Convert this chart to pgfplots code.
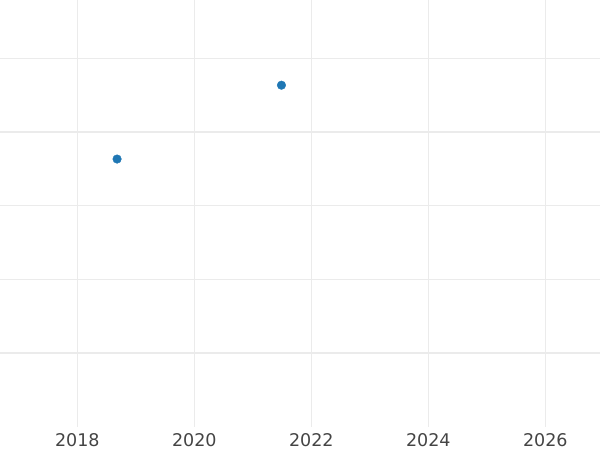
\documentclass[border=0pt]{standalone}
\usepackage{pgfplots}
\pgfplotsset{compat=1.18}
\usepackage{fontspec}
\setmainfont{DejaVu Sans}
\definecolor{ptblue}{HTML}{1F77B4}
\definecolor{gridc}{HTML}{EBEBEB}
\definecolor{labc}{HTML}{444444}
\begin{document}
\begin{tikzpicture}
\begin{axis}[
  scale only axis,
  width=600pt, height=426.7pt,
  xmin=2016.679, xmax=2026.935,
  ymin=0, ymax=5.79,
  xtick={2018,2020,2022,2024,2026},
  ytick={1,2,3,4,5},
  yticklabels={},
  grid=major,
  major grid style={draw=gridc, line width=1.2pt},
  axis line style={draw=none},
  major tick length=0pt,
  /pgf/number format/assume math mode=true,
  /pgf/number format/1000 sep={},
  xticklabel style={font=\fontsize{17.5}{17.5}\selectfont, text=labc, yshift=-3.5pt},
]
\addplot[only marks, mark=*, mark size=4.3pt, color=ptblue, mark options={draw=ptblue, fill=ptblue}] coordinates {
  (2018.68, 3.632)
  (2021.49, 4.634)
};
\end{axis}
\pgfresetboundingbox
\path (current axis.north west) rectangle ([yshift=-23.3pt]current axis.south east);
\end{tikzpicture}
\end{document}
